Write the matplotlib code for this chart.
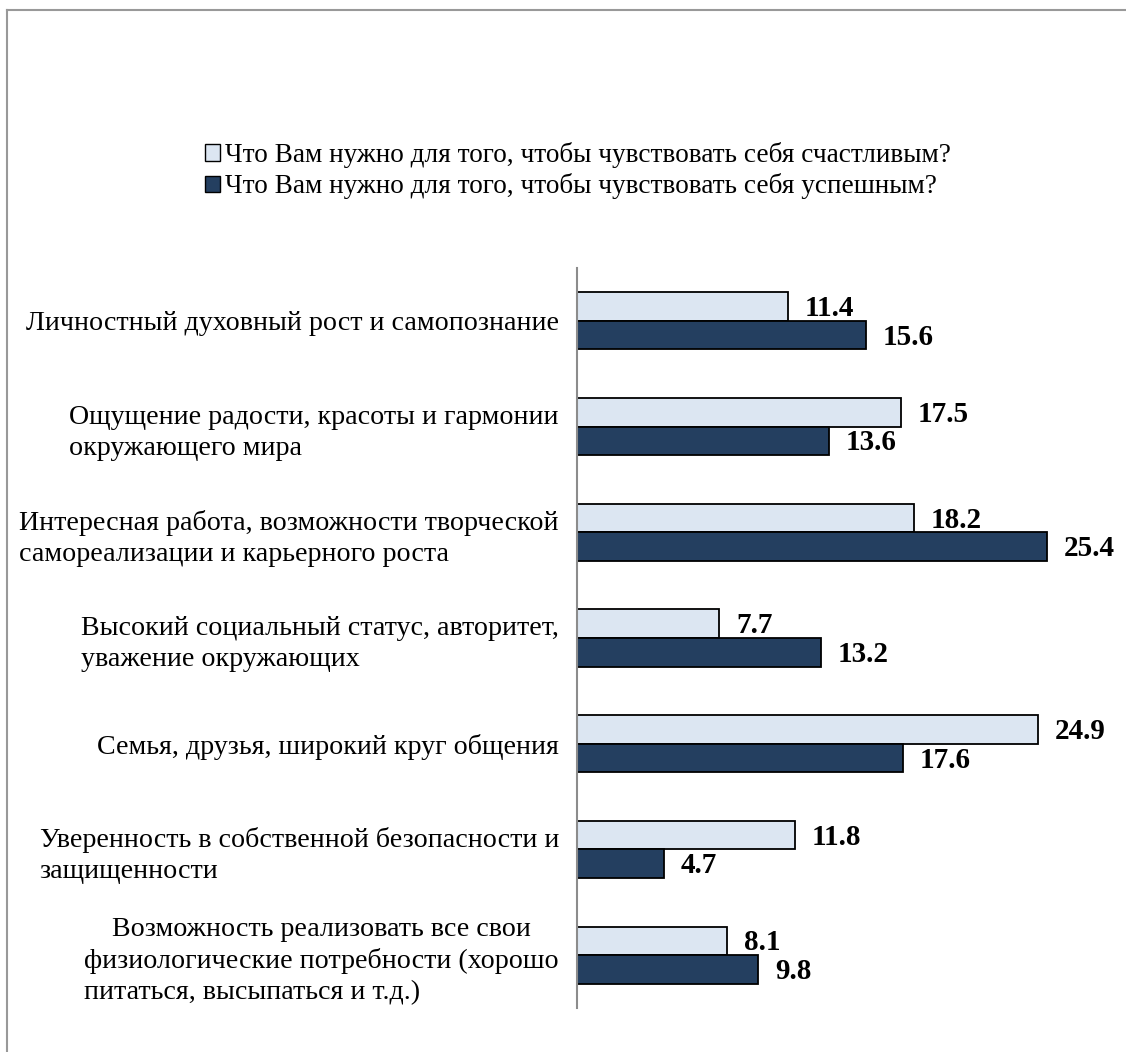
import matplotlib
matplotlib.use("Agg")
import matplotlib.pyplot as plt
from matplotlib.lines import Line2D
from matplotlib.patches import Patch
import numpy as np

plt.rcParams['font.family'] = ['Liberation Serif', 'DejaVu Serif']

categories = [
    "Личностный духовный рост и самопознание",
    "Ощущение радости, красоты и гармонии\nокружающего мира",
    "Интересная работа, возможности творческой\nсамореализации и карьерного роста",
    "Высокий социальный статус, авторитет,\nуважение окружающих",
    "Семья, друзья, широкий круг общения",
    "Уверенность в собственной безопасности и\nзащищенности",
    "    Возможность реализовать все свои\nфизиологические потребности (хорошо\nпитаться, высыпаться и т.д.)",
]
happy = [11.4, 17.5, 18.2, 7.7, 24.9, 11.8, 8.1]
success = [15.6, 13.6, 25.4, 13.2, 17.6, 4.7, 9.8]
series_names = [
    "Что Вам нужно для того, чтобы чувствовать себя счастливым?",
    "Что Вам нужно для того, чтобы чувствовать себя успешным?",
]

light = '#dce6f2'
dark = '#243f60'

fig = plt.figure(figsize=(11.26, 10.52), dpi=100)
ax = fig.add_axes([577 / 1126, 44 / 1052, 536 / 1126, 740 / 1052])

n = len(categories)
y = np.arange(n)[::-1].astype(float)
h = 0.27
ax.barh(y + h / 2, happy, height=h, color=light, edgecolor='black', linewidth=1.3)
ax.barh(y - h / 2, success, height=h, color=dark, edgecolor='black', linewidth=1.3)

for yi, v in zip(y + h / 2, happy):
    ax.annotate(f"{v:.1f}", (v, yi), xytext=(12, -1.5), textcoords='offset points',
                ha='left', va='center', fontsize=21, fontweight='bold')
for yi, v in zip(y - h / 2, success):
    ax.annotate(f"{v:.1f}", (v, yi), xytext=(12, -1.5), textcoords='offset points',
                ha='left', va='center', fontsize=21, fontweight='bold')

ax.set_xlim(0, 536 / 18.5)
ax.set_ylim(-0.5, n - 0.5)
ax.set_yticks(y)
ax.set_yticklabels(categories, fontsize=20.2, linespacing=1.32, multialignment='left')
ax.tick_params(axis='y', length=0, pad=13)
ax.set_xticks([])
for s in ['top', 'right', 'bottom']:
    ax.spines[s].set_visible(False)
ax.spines['left'].set_color('#8c8c8c')
ax.spines['left'].set_linewidth(1.5)

handles = [Patch(facecolor=light, edgecolor='black', linewidth=1.0),
           Patch(facecolor=dark, edgecolor='black', linewidth=1.0)]
fig.legend(handles, series_names, loc='upper left', bbox_to_anchor=(205 / 1126, 1 - 142 / 1052),
           frameon=False, fontsize=19.6, handlelength=0.55, handleheight=0.55,
           handletextpad=0.2, labelspacing=0.2, borderpad=0, borderaxespad=0)

# outer frame (left and top edges)
fig.add_artist(Line2D([7 / 1126, 7 / 1126], [0, 1 - 10 / 1052], transform=fig.transFigure,
                      color='#999999', linewidth=1.5))
fig.add_artist(Line2D([7 / 1126, 1], [1 - 10 / 1052, 1 - 10 / 1052], transform=fig.transFigure,
                      color='#999999', linewidth=1.5))

fig.savefig('out.png', dpi=100)
